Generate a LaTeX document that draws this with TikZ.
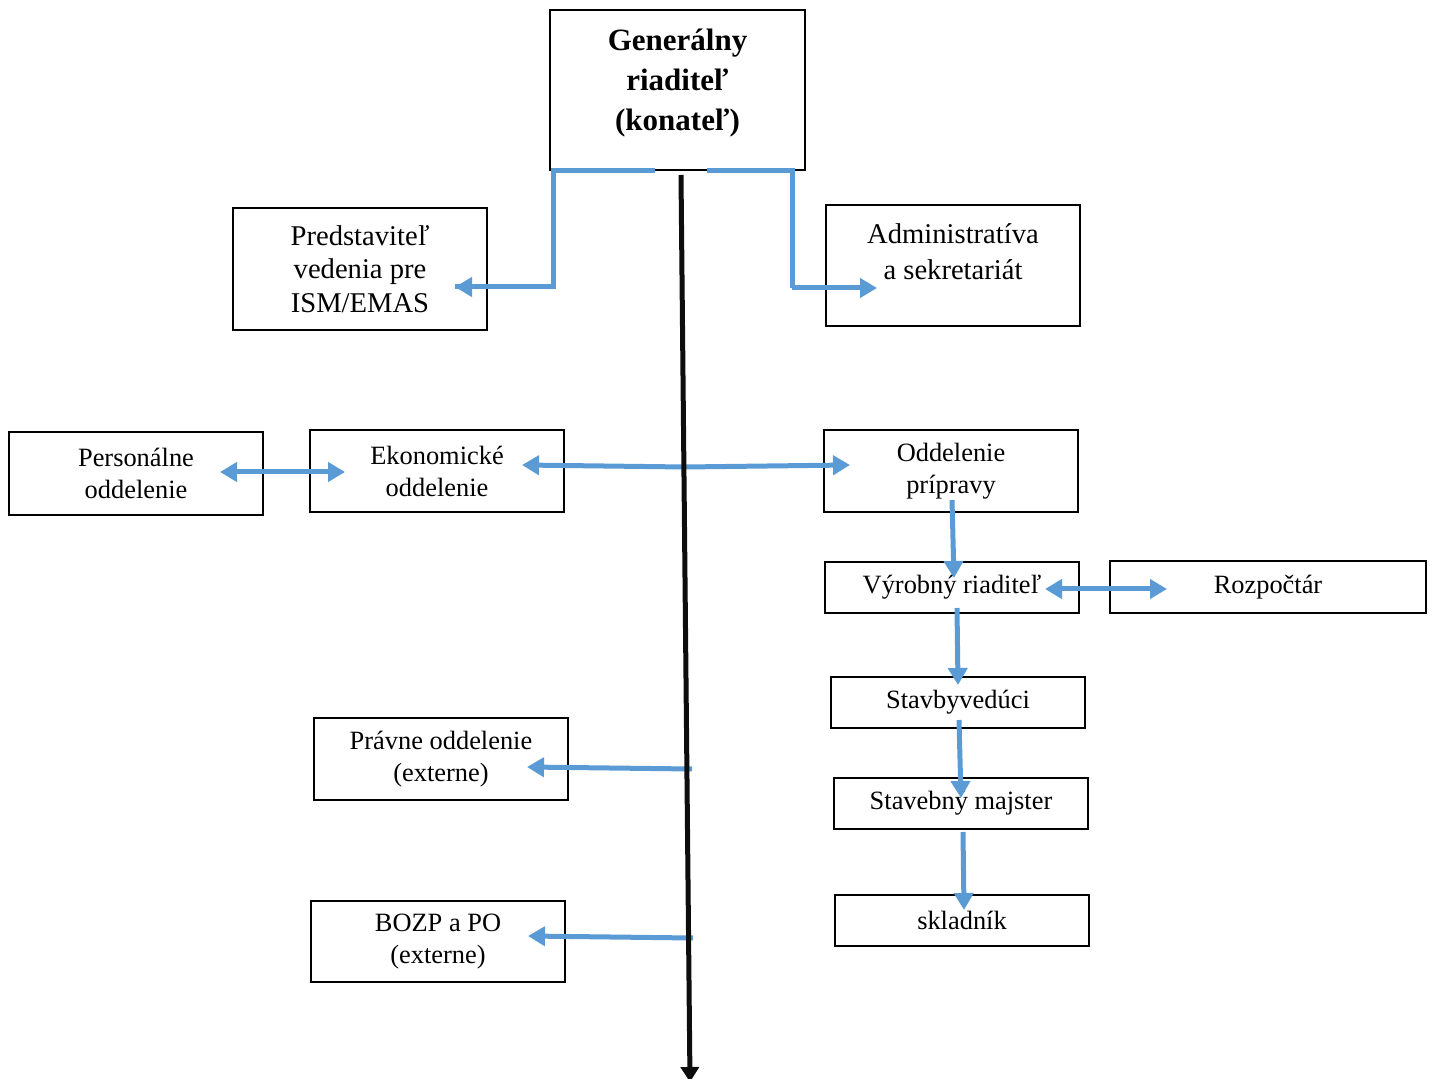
\documentclass[tikz,border=0pt]{standalone}
\usepackage{fontspec}
\setmainfont{Liberation Serif}
\usetikzlibrary{arrows.meta}

\definecolor{linkblue}{RGB}{91,155,213}

\begin{document}
\begin{tikzpicture}[
    x=0.5pt, y=-0.5pt, % one unit = one pixel of the sheet, y runs down
    font=\fontsize{13.2}{16}\selectfont,
    box/.style={draw, line width=0.8pt, inner sep=0pt, align=center, minimum width=127pt},
    link/.style={linkblue, line width=2.5pt, -{Triangle[length=8.5pt,width=9.5pt]}},
    twoway/.style={link, {Triangle[length=8.5pt,width=9.5pt]}-{Triangle[length=8.5pt,width=9.5pt]}}
    ]
    % --- sheet ---
    \useasboundingbox (0,0) rectangle (1435,1079);

    % 1. boxes
    \node[box, minimum width=127.5pt, minimum height=80pt,
          font=\bfseries\fontsize{15.5}{20}\selectfont] (gr) at (677.5,90)
          {Generálny\\riaditeľ\\(konateľ)\\[-10pt]\mbox{}};
    \node[box, minimum height=61pt, font=\fontsize{14.3}{16.8}\selectfont] (pred) at (360,269)
          {Predstaviteľ\\vedenia pre\\ISM/EMAS};
    \node[box, minimum height=60.5pt, font=\fontsize{14.3}{18}\selectfont] (adm) at (953,265.5)
          {Administratíva\\a sekretariát\\[-4.5pt]\mbox{}};
    \node[box, minimum height=41.5pt] (pers) at (136,473.5) {Personálne\\oddelenie};
    \node[box, minimum height=41pt] (eko) at (437,471) {Ekonomické\\oddelenie};
    \node[box, minimum height=41pt] (odd) at (951,471) {Oddelenie\\prípravy};
    \node[box, minimum height=25.5pt] (vyr) at (952,587.5) {Výrobný riaditeľ};
    \node[box, minimum width=158pt, minimum height=26pt] (roz) at (1268,587) {Rozpočtár};
    \node[box, minimum height=25.5pt] (stav) at (958,702.5) {Stavbyvedúci};
    \node[box, minimum height=25.5pt] (maj) at (961,803.5) {Stavebný majster};
    \node[box, minimum height=25.5pt] (skl) at (962,920.5) {skladník};
    \node[box, minimum height=41pt] (prav) at (441,759) {Právne oddelenie\\(externe)};
    \node[box, minimum height=40.5pt] (bozp) at (438,941.5) {BOZP a PO\\(externe)};

    % 2. end points of the connectors
    \coordinate (grL) at (655,171);   \coordinate (predTip) at (455,287);
    \coordinate (grR) at (707,171);   \coordinate (admTip) at (877,288);
    \coordinate (ekoTip) at (522,465); \coordinate (spineEko) at (685,467); \coordinate (oddTip) at (850,465);
    \coordinate (persTip) at (220,472); \coordinate (ekoTipL) at (345,472);
    \coordinate (oddOut) at (952,500); \coordinate (vyrIn) at (954,578);
    \coordinate (vyrOut) at (957,608); \coordinate (stavIn) at (958,685);
    \coordinate (stavOut) at (959,720); \coordinate (majIn) at (961,798);
    \coordinate (majOut) at (963,832); \coordinate (sklIn) at (964,910);
    \coordinate (vyrTip) at (1045,589); \coordinate (rozTip) at (1167,589);
    \coordinate (spinePrav) at (692,769); \coordinate (pravTip) at (527,767);
    \coordinate (spineBozp) at (693,938); \coordinate (bozpTip) at (528,936);
    \coordinate (spineTop) at (681,175); \coordinate (spineEnd) at (690,1082);

    % 3. blue connectors
    \draw[link, -] (grL) -| (553,287) -- (predTip);
    \draw[link] (553,287) -- (predTip);
    \draw[link, -] (grR) -| (792,288);
    \draw[link] (792,288) -- (admTip);
    \draw[twoway] (ekoTip) -- (spineEko) -- (oddTip);
    \draw[twoway] (persTip) -- (ekoTipL);
    \draw[link] (oddOut) -- (vyrIn);
    \draw[twoway] (vyrTip) -- (rozTip);
    \draw[link] (vyrOut) -- (stavIn);
    \draw[link] (stavOut) -- (majIn);
    \draw[link] (majOut) -- (sklIn);
    \draw[link] (spinePrav) -- (pravTip);
    \draw[link] (spineBozp) -- (bozpTip);

    % 4. main black line
    \draw[line width=2.5pt, color=black!95, -{Triangle[length=7.5pt,width=9pt]}] (spineTop) -- (spineEnd);
\end{tikzpicture}
\end{document}
